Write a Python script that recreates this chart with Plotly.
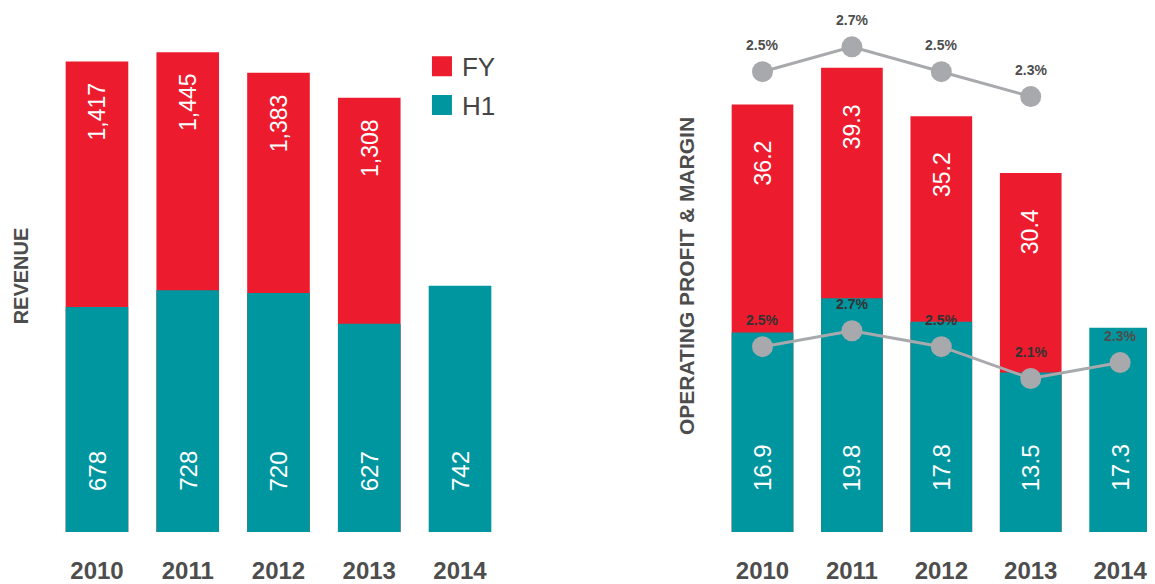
import plotly.graph_objects as go

# ---- data ----
years = ["2010", "2011", "2012", "2013", "2014"]
revenue_fy = [1417, 1445, 1383, 1308, None]
revenue_h1 = [678, 728, 720, 627, 742]
profit_fy = [36.2, 39.3, 35.2, 30.4, None]
profit_h1 = [16.9, 19.8, 17.8, 13.5, 17.3]
margin_fy = [2.5, 2.7, 2.5, 2.3, None]
margin_h1 = [2.5, 2.7, 2.5, 2.1, 2.3]

RED = "#ec1c2e"
TEAL = "#00969f"
GREY = "#a7a9ac"
DARK = "#4d4d4d"
FONT = "Liberation Sans"

fig = go.Figure()

# ---- revenue (left) ----
fig.add_trace(go.Bar(x=years, y=revenue_fy, marker=dict(color=RED, line=dict(width=0)),
                     xaxis="x", yaxis="y", showlegend=False, name="FY"))
fig.add_trace(go.Bar(x=years, y=revenue_h1, marker=dict(color=TEAL, line=dict(width=0)),
                     xaxis="x", yaxis="y", showlegend=False, name="H1"))

# ---- operating profit (right) ----
fig.add_trace(go.Bar(x=years, y=profit_fy, marker=dict(color=RED, line=dict(width=0)),
                     xaxis="x2", yaxis="y2", showlegend=False, name="FY"))
fig.add_trace(go.Bar(x=years, y=profit_h1, marker=dict(color=TEAL, line=dict(width=0)),
                     xaxis="x2", yaxis="y2", showlegend=False, name="H1"))

# ---- margins ----
fig.add_trace(go.Scatter(x=years, y=margin_fy, mode="lines+markers", xaxis="x2", yaxis="y3",
                         line=dict(color=GREY, width=3), marker=dict(color=GREY, size=21),
                         showlegend=False, name="FY margin"))
fig.add_trace(go.Scatter(x=years, y=margin_h1, mode="lines+markers", xaxis="x2", yaxis="y4",
                         line=dict(color=GREY, width=3), marker=dict(color=GREY, size=21),
                         showlegend=False, name="H1 margin"))

# ---- legend entries ----
for nm, col in [("FY", RED), ("H1", TEAL)]:
    fig.add_trace(go.Scatter(x=[None], y=[None], mode="markers", name=nm, xaxis="x", yaxis="y",
                             legendgroup=nm,
                             marker=dict(symbol="square", size=16, color=col,
                                         line=dict(color=col, width=4))))

ann = []
# FY value labels (near top of bar); x given as category index
for xa, ya, vals, fmt, shift in [("x", "y", revenue_fy, "{:,}", -19),
                                 ("x2", "y2", profit_fy, "{:.1f}", -34)]:
    for i, v in enumerate(vals):
        if v is None:
            continue
        ann.append(dict(x=i, y=v, xref=xa, yref=ya, text=fmt.format(v), textangle=-90,
                        showarrow=False, yanchor="top", yshift=shift,
                        font=dict(family=FONT, size=23, color="white")))
# H1 value labels (near bottom of bar)
for xa, ya, vals, fmt in [("x", "y", revenue_h1, "{:,}"), ("x2", "y2", profit_h1, "{:.1f}")]:
    for i, v in enumerate(vals):
        ann.append(dict(x=i, y=0, xref=xa, yref=ya, text=fmt.format(v), textangle=-90,
                        showarrow=False, yanchor="bottom", yshift=39,
                        font=dict(family=FONT, size=24, color="white")))
# margin labels
for ya, vals, col in [("y3", margin_fy, DARK), ("y4", margin_h1, "#333333")]:
    for i, v in enumerate(vals):
        if v is None:
            continue
        c = DARK if (ya == "y4" and margin_fy[i] is None) else col
        ann.append(dict(x=i, y=v, xref="x2", yref=ya, text="{:.1f}%".format(v),
                        showarrow=False, yanchor="middle", yshift=27,
                        font=dict(family=FONT, size=14, color=c, weight="bold")))

xcommon = dict(type="category", showgrid=False, zeroline=False, showline=False, ticks="",
               tickfont=dict(family=FONT, size=24, color=DARK, weight="bold"),
               ticklabelstandoff=22, fixedrange=True)
ycommon = dict(showgrid=False, zeroline=False, showline=False, ticks="", showticklabels=False,
               fixedrange=True)

fig.update_layout(
    width=1147, height=576,
    margin=dict(l=0, r=0, t=12, b=49),
    paper_bgcolor="white", plot_bgcolor="white",
    barmode="overlay", bargap=0.31,
    font=dict(family=FONT, color=DARK),
    xaxis=dict(xcommon, domain=[0.03801, 0.43365], range=[-0.5, 4.5], anchor="y"),
    xaxis2=dict(xcommon, domain=[0.61883, 1.0], range=[-0.5, 4.39], anchor="y2"),
    yaxis=dict(ycommon, range=[0, 1542], anchor="x",
               title=dict(text="REVENUE", standoff=16,
                          font=dict(family=FONT, size=20, color=DARK, weight="bold"))),
    yaxis2=dict(ycommon, range=[0, 43.35], anchor="x2",
                title=dict(text="OPERATING PROFIT & MARGIN", standoff=16,
                           font=dict(family=FONT, size=21, color=DARK, weight="bold"))),
    yaxis3=dict(ycommon, range=[-1.204, 2.916], overlaying="y2", anchor="x2", visible=False),
    yaxis4=dict(ycommon, range=[0.17, 6.6075], overlaying="y2", anchor="x2", visible=False),
    legend=dict(x=0.3609, y=0.9553, xanchor="left", yanchor="top", bgcolor="rgba(0,0,0,0)",
                tracegroupgap=2,
                font=dict(family=FONT, size=26, color="#444444")),
    annotations=ann,
)

fig.write_html("out.html")
